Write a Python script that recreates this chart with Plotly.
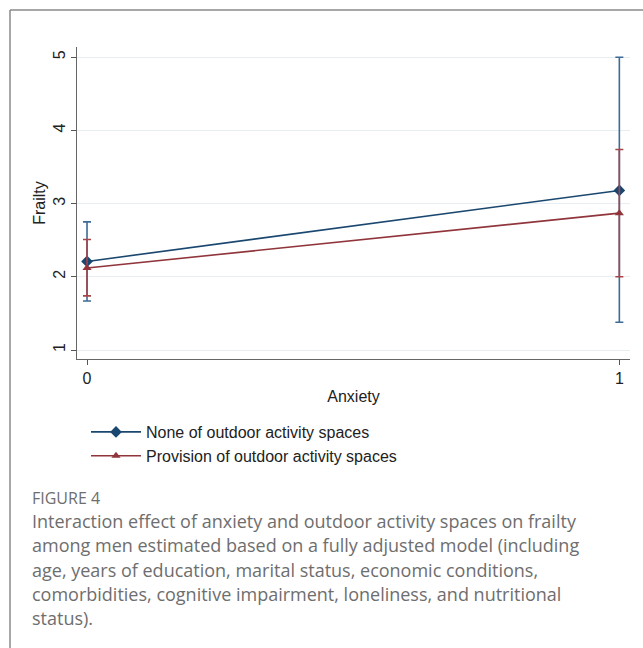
import plotly.graph_objects as go

W, H = 643, 648

anxiety = [0, 1]
series_names = ["None of outdoor activity spaces", "Provision of outdoor activity spaces"]
none_mean = [2.21, 3.18]
none_upper = [2.75, 5.00]
none_lower = [1.67, 1.38]
prov_mean = [2.12, 2.87]
prov_upper = [2.51, 3.74]
prov_lower = [1.74, 2.00]
y_ticks = [1, 2, 3, 4, 5]
x_ticks = [0, 1]

caption_title = "FIGURE 4"
caption_lines = [
    "Interaction effect of anxiety and outdoor activity spaces on frailty",
    "among men estimated based on a fully adjusted model (including",
    "age, years of education, marital status, economic conditions,",
    "comorbidities, cognitive impairment, loneliness, and nutritional",
    "status).",
]

BLUE = "#1a476f"
BLUE_EB = "#3d6b96"
RED = "#90353b"
RED_EB = "#a8434a"

def px_x(p):
    return p / W

def px_y(p):
    return 1 - p / H

fig = go.Figure()

def add_series(name, mean, up, lo, color, ebcolor, symbol, msize):
    fig.add_trace(go.Scatter(
        x=anxiety, y=mean, name=name, mode="lines+markers",
        line=dict(color=color, width=1.6),
        marker=dict(symbol=symbol, size=msize, color=color),
        error_y=dict(type="data", symmetric=False,
                     array=[u - m for u, m in zip(up, mean)],
                     arrayminus=[m - l for m, l in zip(mean, lo)],
                     color=ebcolor, thickness=1.6, width=4),
    ))

add_series(series_names[0], none_mean, none_upper, none_lower, BLUE, BLUE_EB, "diamond", 9)
add_series(series_names[1], prov_mean, prov_upper, prov_lower, RED, RED_EB, "triangle-up", 8)

axis_font = dict(family="Liberation Sans, Arial, sans-serif", size=16, color="#222")

fig.update_layout(
    width=W, height=H,
    margin=dict(l=0, r=0, t=0, b=0),
    paper_bgcolor="white", plot_bgcolor="white",
    showlegend=True,
    legend=dict(x=px_x(86), y=px_y(415), xanchor="left", yanchor="top",
                font=dict(family="Liberation Sans, Arial, sans-serif", size=16, color="#222"),
                bgcolor="rgba(0,0,0,0)", tracegroupgap=0, itemwidth=50),
    xaxis=dict(domain=[px_x(77), px_x(630)], range=[-0.0188, 1.02],
               tickvals=x_ticks, ticktext=[str(v) for v in x_ticks],
               ticks="outside", ticklen=5, tickcolor="#555", tickwidth=1.2,
               showline=True, linecolor="#666", linewidth=1.2,
               showgrid=False, zeroline=False, tickfont=axis_font,
               title=dict(text="Anxiety", font=axis_font, standoff=4),
               automargin=False),
    yaxis=dict(domain=[px_y(359), px_y(47)], range=[0.877, 5.14],
               tickvals=y_ticks, ticktext=[str(v) for v in y_ticks],
               ticks="outside", ticklen=5, tickcolor="#555", tickwidth=1.2,
               tickangle=-90,
               showline=True, linecolor="#666", linewidth=1.2,
               showgrid=True, gridcolor="#e6eef1", gridwidth=1,
               zeroline=False, tickfont=axis_font,
               title=dict(text="Frailty", font=axis_font, standoff=0),
               automargin=False),
)

# figure border (cropped box)
fig.add_shape(type="line", xref="paper", yref="paper",
              x0=px_x(10), x1=1.01, y0=px_y(10), y1=px_y(10),
              line=dict(color="#8a8a8a", width=1.5))
fig.add_shape(type="line", xref="paper", yref="paper",
              x0=px_x(10), x1=px_x(10), y0=px_y(10), y1=-0.01,
              line=dict(color="#8a8a8a", width=1.5))

cap_font = dict(family="Open Sans, Noto Sans, sans-serif", size=18, color="#6e6e6e")
fig.add_annotation(text=caption_title, xref="paper", yref="paper",
                   x=px_x(30), y=px_y(498), xanchor="left", yanchor="middle",
                   showarrow=False,
                   font=dict(family="Open Sans, Noto Sans, sans-serif", size=16, color="#6e6e6e"))
for i, line in enumerate(caption_lines):
    fig.add_annotation(text=line, xref="paper", yref="paper",
                       x=px_x(30), y=px_y(521 + 24.3 * i), xanchor="left", yanchor="middle",
                       showarrow=False, font=cap_font)

fig.write_html("out.html", config={"displayModeBar": False},
               post_script="document.body.style.margin='0px';document.body.style.overflow='hidden';")
